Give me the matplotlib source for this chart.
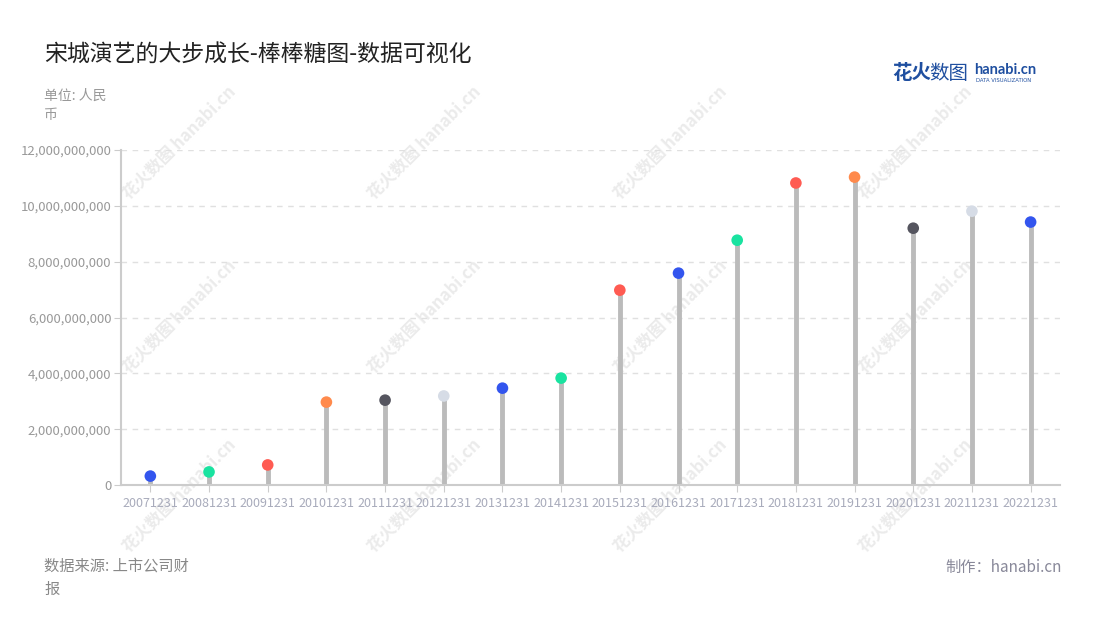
import matplotlib.pyplot as plt
import numpy as np
from matplotlib.ticker import FuncFormatter

plt.rcParams['font.family'] = ['Noto Sans CJK SC', 'DejaVu Sans']

dates = ['20071231', '20081231', '20091231', '20101231', '20111231', '20121231',
         '20131231', '20141231', '20151231', '20161231', '20171231', '20181231',
         '20191231', '20201231', '20211231', '20221231']
revenue = [0.32e9, 0.47e9, 0.72e9, 2.97e9, 3.04e9, 3.19e9, 3.47e9, 3.83e9,
           6.98e9, 7.59e9, 8.77e9, 10.82e9, 11.03e9, 9.20e9, 9.81e9, 9.42e9]
dot_colors = ['#3355ee', '#19e3a0', '#ff5b52', '#ff8a4c', '#55555f', '#d6dce6',
              '#3355ee', '#19e3a0', '#ff5b52', '#3355ee', '#19e3a0', '#ff5b52',
              '#ff8a4c', '#55555f', '#d6dce6', '#3355ee']

fig = plt.figure(figsize=(11, 6.2), dpi=100)
ax = fig.add_axes([0.11, 0.2177, 0.8536, 0.5403])
ax.patch.set_visible(False)

x = np.arange(len(dates))
ax.vlines(x, 0, revenue, color='#bbbbbb', linewidth=3.5, zorder=2)
ax.scatter(x, revenue, s=70, c=dot_colors, zorder=3, linewidths=0)

ax.set_xlim(-0.5, len(dates) - 0.5)
ax.set_ylim(0, 12e9)
ax.set_yticks(np.arange(0, 12.1e9, 2e9))
ax.yaxis.set_major_formatter(FuncFormatter(lambda v, p: '{:,.0f}'.format(v)))
ax.set_xticks(x)
ax.set_xticklabels(dates)

ax.grid(axis='y', linestyle=(0, (4, 4)), color='#e0e0e0', linewidth=1)
ax.set_axisbelow(True)
for s in ['top', 'right']:
    ax.spines[s].set_visible(False)
for s in ['left', 'bottom']:
    ax.spines[s].set_color('#cccccc')
    ax.spines[s].set_linewidth(1.5)
ax.tick_params(axis='y', colors='#cccccc', labelcolor='#999999', labelsize=9.5,
               length=5, pad=2)
ax.tick_params(axis='x', colors='#cccccc', labelcolor='#a8abbb', labelsize=9,
               length=5)

# watermarks, drawn behind the axes
for wx in [0.163, 0.386, 0.609, 0.832]:
    for wy in [0.77, 0.49, 0.2]:
        fig.text(wx, wy, '花火数图 hanabi.cn', rotation=45, fontsize=12,
                 color='#ebebeb', ha='center', va='center', zorder=-5,
                 fontweight='bold')

fig.text(0.04, 0.911, '宋城演艺的大步成长-棒棒糖图-数据可视化', fontsize=16.5,
         color='#222222', va='center')
fig.text(0.04, 0.83, '单位: 人民\n币', fontsize=10, color='#999999', va='center',
         linespacing=1.4)
fig.text(0.04, 0.068, '数据来源: 上市公司财\n报', fontsize=11, color='#888888',
         va='center', linespacing=1.5)
fig.text(0.965, 0.085, '制作：hanabi.cn', fontsize=11, color='#888899',
         ha='right', va='center')

# logo
fig.text(0.811, 0.882, '花火', fontsize=14, color='#1f4fa0', fontweight='bold',
         va='center')
fig.text(0.845, 0.882, '数图', fontsize=14, color='#1f4fa0', va='center')
fig.text(0.886, 0.887, 'hanabi.cn', fontsize=10.5, color='#1f4fa0',
         fontweight='bold', va='center', family=['Lato', 'DejaVu Sans'])
fig.text(0.887, 0.87, 'DATA VISUALIZATION', fontsize=3.8, color='#1f4fa0',
         va='center', family=['DejaVu Sans'])

fig.savefig('out.png', dpi=100, facecolor='white')
